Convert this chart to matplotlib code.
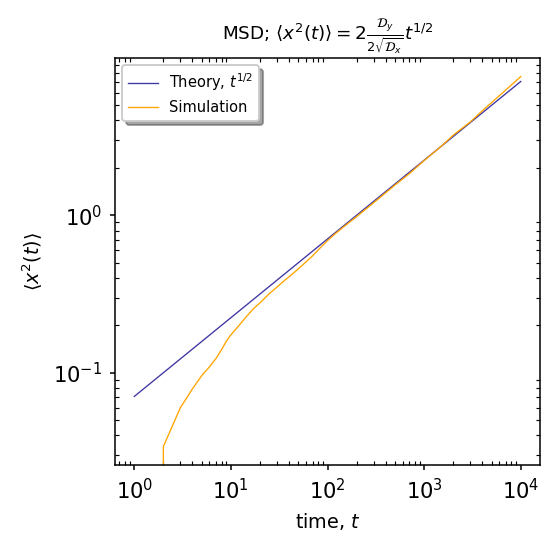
import matplotlib
matplotlib.use("Agg")
import matplotlib.pyplot as plt

# theory line end points, <x^2(t)> ~ t^{1/2}
t_theory = [1, 10000]
msd_theory = [0.0707, 7.07]

# simulation values (t=1 gives zero)
t_sim = [1, 2, 3, 4, 5, 6, 7, 8, 9, 10, 12, 14, 17, 20, 25, 30, 36, 45, 55,
         70, 85, 100, 120, 150, 200, 300, 500, 700, 1000, 1500, 2000, 3000,
         4000, 5000, 7000, 10000]
msd_sim = [0.0, 0.034, 0.060, 0.079, 0.096, 0.109, 0.123, 0.140, 0.159, 0.174,
           0.198, 0.222, 0.254, 0.278, 0.318, 0.350, 0.386, 0.432, 0.482,
           0.552, 0.625, 0.690, 0.763, 0.853, 0.980, 1.200, 1.557, 1.833,
           2.225, 2.738, 3.225, 3.911, 4.606, 5.20, 6.24, 7.60]

fig, ax = plt.subplots(figsize=(4, 4), dpi=137.5)
fig.subplots_adjust(left=0.209, right=0.982, top=0.8945, bottom=0.1545)

ax.plot(t_theory, msd_theory, color="#3f36a3", lw=0.7, label=r"Theory, $t^{1/2}$")
ax.plot(t_sim, msd_sim, color="orange", lw=0.7, label="Simulation")

ax.set_xscale("log")
ax.set_yscale("log")

ax.tick_params(which="major", direction="out", length=2.8, labelsize=11, pad=4)
ax.tick_params(which="minor", direction="in", top=True, right=True, length=2)
ax.set_xlabel(r"time, $t$", fontsize=10)
ax.set_ylabel(r"$\langle x^2(t) \rangle$", fontsize=10)
ax.set_title(r"MSD; $\langle x^2(t) \rangle = 2\frac{\mathcal{D}_y}{2\sqrt{\mathcal{D}_x}} t^{1/2}$",
             fontsize=9.6, pad=9)

ax.legend(loc="upper left", shadow=True, fancybox=True, fontsize=7.7)

fig.savefig("out.png", dpi=137.5)
